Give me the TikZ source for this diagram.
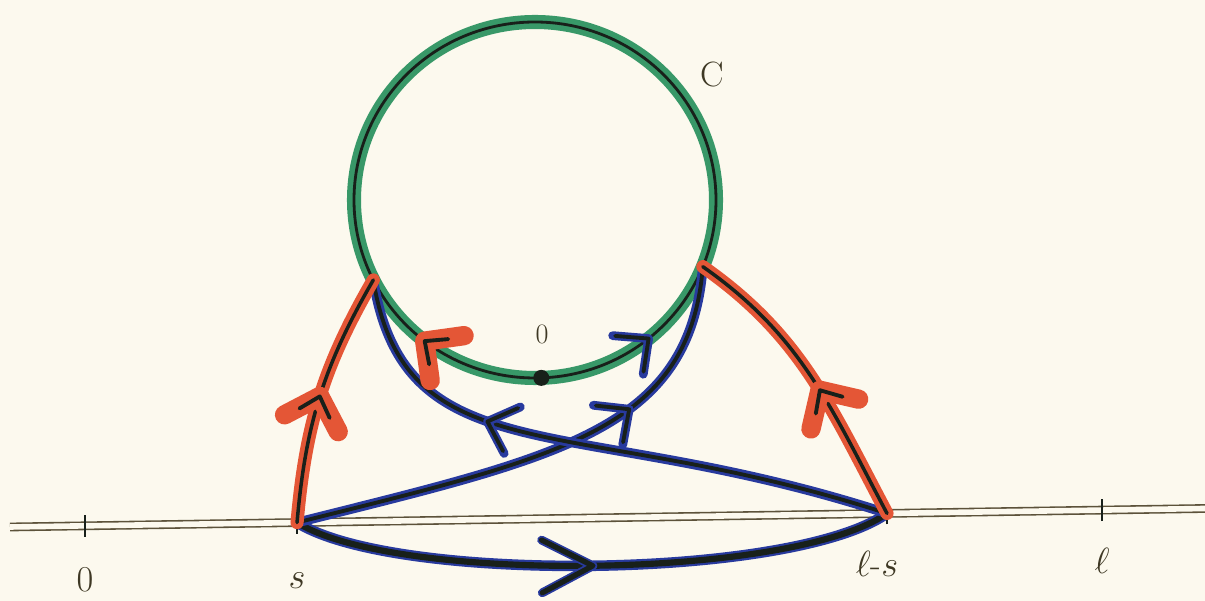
\documentclass[tikz,border=0pt]{standalone}
\usepackage{tikz}
\usetikzlibrary{decorations.markings, positioning}

\definecolor{paper}{RGB}{252,249,238}
\definecolor{greenink}{RGB}{56,152,104}
\definecolor{redink}{RGB}{228,86,54}
\definecolor{blueink}{RGB}{40,58,158}
\definecolor{inkblack}{RGB}{24,32,26}
\definecolor{axisink}{RGB}{92,82,58}
\definecolor{textink}{RGB}{62,56,36}

% barbed head drawn in the frame of the path
\newcommand{\inkhead}[4]{\draw[#1, line width=#4, line cap=round, line join=round] (-#2,#3) -- (0pt,0pt) -- (-#2,-#3);}
\newcommand{\redhead}{\inkhead{redink}{16pt}{16pt}{11pt}\inkhead{inkblack}{10pt}{9pt}{2.2pt}}
\newcommand{\bluehead}{\inkhead{blueink}{15pt}{14pt}{5pt}\inkhead{inkblack}{14pt}{13pt}{2.2pt}}
\newcommand{\lowhead}{\inkhead{blueink}{29pt}{15pt}{5pt}\inkhead{inkblack}{29pt}{15pt}{3pt}}

\tikzset{
  axisline/.style={draw=axisink, line width=0.9pt, double=paper, double distance=3.2pt},
  axtick/.style={draw=inkblack, line width=1pt},
  ring/.style={draw=greenink, line width=8pt, postaction={draw=inkblack, line width=1.6pt}},
  redtrack/.style={draw=redink, line width=7.5pt, line cap=round, postaction={draw=inkblack, line width=2pt}},
  bluetrack/.style={draw=blueink, line width=5.5pt, line cap=round, postaction={draw=inkblack, line width=2.2pt}},
  lowtrack/.style={draw=blueink, line width=6pt, line cap=round, postaction={draw=inkblack, line width=3.5pt}},
  headat/.style 2 args={postaction={decorate, decoration={markings, mark=at position #1 with {#2}}}},
  lab/.style={text=textink, font=\fontsize{20}{22}\selectfont, text height=14pt, text depth=4pt}
}

\begin{document}
\begin{tikzpicture}[x=0.02cm, y=0.02cm]
        \fill[paper] (0,0) rectangle (1205,601);
        \useasboundingbox (0,0) rectangle (1205,601);
        % Axis
        \coordinate (axl) at (10,74);
        \coordinate (axr) at (1205,92.5);
        \draw[axisline] (axl) -- (axr)
            coordinate[pos=0.0628] (t0)
            coordinate[pos=0.2402] (s)
            coordinate[pos=0.7339] (ls)
            coordinate[pos=0.9138] (tl);
        \foreach \t in {t0,s,ls,tl} \draw[axtick] (\t) ++(0,-11) -- ++(0,22);
        % Axis labels
        \node[lab] (zero) at (t0) [below=7mm] {$0$};
        \node[lab] (slab) at (s) [below=7mm] {$s$};
        \node[lab] (lslab) at (ls) [below=6.5mm, xshift=-2mm] {$\ell$-$s$};
        \node[lab] (llab) at (tl) [below=6.5mm] {$\ell$};
        % Lower path
        \draw[lowtrack, headat={0.5}{\lowhead}] (s) to[out=-32, in=215, looseness=0.5] (ls);
        % Circle C
        \coordinate (c) at (535,401);
        \draw[ring] (c) ellipse[x radius=181, y radius=178];
        \path (c) ++(-88:181 and 178) coordinate (o);
        \path (c) ++(206.7:181 and 178) coordinate (A);
        \path (c) ++(-22:181 and 178) coordinate (B);
        \node[lab] (clab) at (712,523) {C};
        \node[lab, font=\fontsize{16}{18}\selectfont] (olab) at (542,266) {0};
        % Crossing paths
        \draw[bluetrack, headat={0.68}{\bluehead}] (s) .. controls +(263,66) and +(-13,-164) .. (B);
        \draw[bluetrack, headat={0.68}{\bluehead}] (ls) .. controls +(-314,102) and +(32,-197) .. (A);
        % Side paths
        \draw[redtrack, headat={0.5}{\redhead}] (s) to[out=85, in=240] (A);
        \draw[redtrack, headat={0.45}{\redhead}] (ls) to[out=118, in=-35] (B);
        % Heads on the circle
        \path[headat={0.92}{\redhead}] (o) arc[start angle=-88, end angle=-131, x radius=181, y radius=178];
        \path[headat={0.9}{\bluehead}] (o) arc[start angle=-88, end angle=-47, x radius=181, y radius=178];
        \fill[inkblack] (o) circle[radius=8];
    \end{tikzpicture}
\end{document}
